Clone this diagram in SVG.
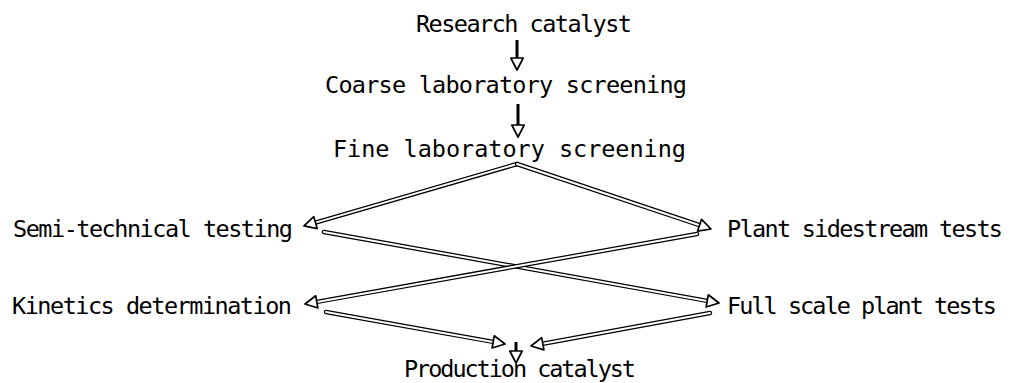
<svg xmlns="http://www.w3.org/2000/svg" width="1012" height="383" viewBox="0 0 1012 383">
<style>
text{font-family:"DejaVu Sans Mono","Liberation Mono",monospace;font-size:23.5px;fill:#000}
.outer{fill:none;stroke:#000;stroke-width:4.5;stroke-linecap:round}
.inner{fill:none;stroke:#fff;stroke-width:2;stroke-linecap:round}
.solid{fill:none;stroke:#000;stroke-width:3}
</style>
<defs>
<marker id="ah" markerUnits="userSpaceOnUse" viewBox="-2 -8 16 16" markerWidth="16" markerHeight="16" refX="0" refY="0" orient="auto">
<path d="M0,-6.2 L12,0 L0,6.2 Z" fill="#fff" stroke="#000" stroke-width="1.7" stroke-linejoin="round"/>
</marker>
</defs>
<rect width="1012" height="383" fill="#fff"/>
<g id="connectors">
<g id="c1"><line class="solid" x1="517" y1="40" x2="517" y2="58" marker-end="url(#ah)"/></g>
<g id="c2"><line class="solid" x1="518" y1="104" x2="518" y2="125" marker-end="url(#ah)"/></g>
<g id="c3"><line class="outer" x1="517" y1="164" x2="315.5" y2="222.6"/><line class="inner" x1="517" y1="164" x2="315.5" y2="222.6" marker-end="url(#ah)"/></g>
<g id="c4"><line class="outer" x1="517" y1="164" x2="699.6" y2="225.2"/><line class="inner" x1="517" y1="164" x2="699.6" y2="225.2" marker-end="url(#ah)"/></g>
<g id="c5"><line class="outer" x1="324" y1="232" x2="707.2" y2="300.9"/><line class="inner" x1="324" y1="232" x2="707.2" y2="300.9" marker-end="url(#ah)"/></g>
<g id="c6"><line class="outer" x1="697" y1="234" x2="316.8" y2="301.9"/><line class="inner" x1="697" y1="234" x2="316.8" y2="301.9" marker-end="url(#ah)"/></g>
<g id="c7"><line class="outer" x1="326" y1="312" x2="493.2" y2="341.9"/><line class="inner" x1="326" y1="312" x2="493.2" y2="341.9" marker-end="url(#ah)"/></g>
<g id="c8"><line class="outer" x1="710" y1="313" x2="542.8" y2="343.8"/><line class="inner" x1="710" y1="313" x2="542.8" y2="343.8" marker-end="url(#ah)"/></g>
<g id="c9"><line class="solid" x1="516" y1="342" x2="516" y2="351" marker-end="url(#ah)"/></g>
</g>
<g id="research"><text x="416" y="32" textLength="216">Research catalyst</text></g>
<g id="coarse"><text x="325" y="93" textLength="362">Coarse laboratory screening</text></g>
<g id="fine"><text x="333" y="157" textLength="353">Fine laboratory screening</text></g>
<g id="semi"><text x="13" y="237" textLength="280">Semi-technical testing</text></g>
<g id="plant"><text x="727" y="237" textLength="276">Plant sidestream tests</text></g>
<g id="kinetics"><text x="12" y="314" textLength="280">Kinetics determination</text></g>
<g id="full"><text x="727" y="314" textLength="270">Full scale plant tests</text></g>
<g id="production"><text x="404" y="377" textLength="232">Production catalyst</text></g>
</svg>
